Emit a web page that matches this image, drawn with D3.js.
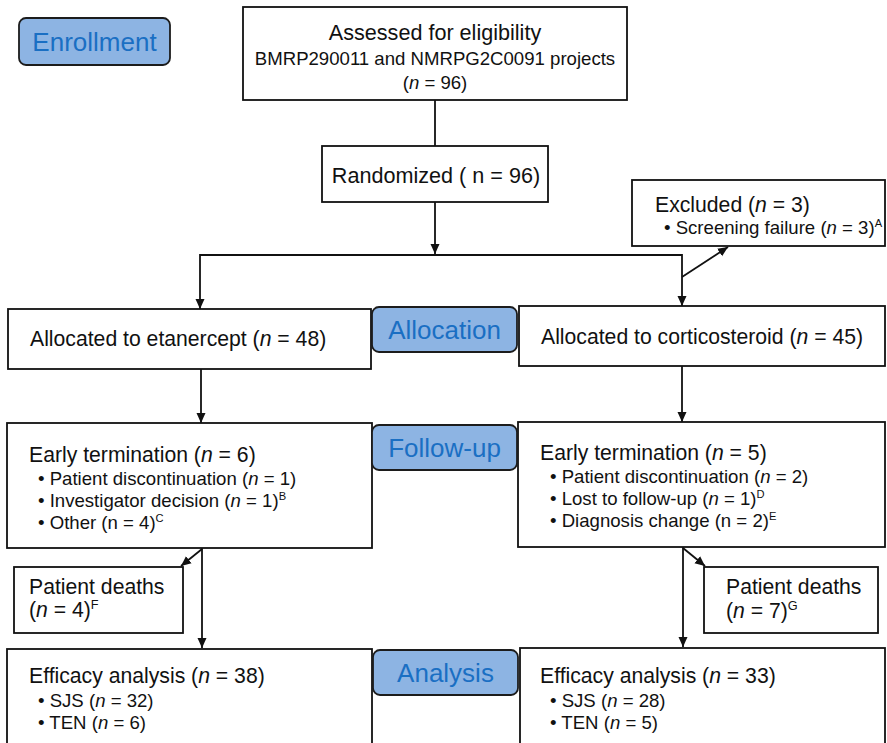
<!DOCTYPE html>
<html>
<head>
<meta charset="utf-8">
<script src="https://cdn.jsdelivr.net/npm/d3@7/dist/d3.min.js"></script>
<style>
  html, body { margin: 0; padding: 0; background: #fff; }
  svg { display: block; }
  text { font-family: "Liberation Sans", Arial, Helvetica, sans-serif; fill: #111; }
</style>
</head>
<body>
<svg id="chart" width="887" height="743"></svg>
<script>
// ---------------- DATA ----------------
const stageLabels = ["Enrollment", "Allocation", "Follow-up", "Analysis"];
const assessedLines = ["Assessed for eligibility", "BMRP290011 and NMRPG2C0091 projects", "(*n* = 96)"];
const randomizedLines = ["Randomized ( n = 96)"];
const excludedLines = ["Excluded (*n* = 3)", "• Screening failure (*n* = 3)^A"];
const allocatedLines = ["Allocated to etanercept (*n* = 48)", "Allocated to corticosteroid (*n* = 45)"];
const terminationLeft = ["Early termination (*n* = 6)", "• Patient discontinuation (*n* = 1)", "• Investigator decision (*n* = 1)^B", "• Other (n = 4)^C"];
const terminationRight = ["Early termination (*n* = 5)", "• Patient discontinuation (*n* = 2)", "• Lost to follow-up (*n* = 1)^D", "• Diagnosis change (n = 2)^E"];
const deathsLeft = ["Patient deaths", "(*n* = 4)^F"];
const deathsRight = ["Patient deaths", "(*n* = 7)^G"];
const efficacyLeft = ["Efficacy analysis (*n* = 38)", "• SJS (*n* = 32)", "• TEN (*n* = 6)"];
const efficacyRight = ["Efficacy analysis (*n* = 33)", "• SJS (*n* = 28)", "• TEN (*n* = 5)"];

// ---------------- DRAWING ----------------
const svg = d3.select("#chart");
const defs = svg.append("defs");
defs.append("marker")
  .attr("id", "arrow")
  .attr("viewBox", "0 0 10 10")
  .attr("refX", 10).attr("refY", 5)
  .attr("markerWidth", 10).attr("markerHeight", 10)
  .attr("markerUnits", "userSpaceOnUse")
  .attr("orient", "auto")
  .append("path").attr("d", "M0,0.5 L10,5 L0,9.5 Z").attr("fill", "#111");

const gLines = svg.append("g");
const gBoxes = svg.append("g");

// write a line with *italic* and ^S superscript markup
function richText(sel, str, x, y, size, anchor) {
  const t = sel.append("text").attr("x", x).attr("y", y)
    .attr("font-size", size).attr("text-anchor", anchor || "start");
  const parts = str.split(/(\*[^*]+\*|\^[A-Z])/).filter(p => p.length);
  let raised = false;
  parts.forEach(p => {
    if (p.startsWith("*")) {
      const ts = t.append("tspan").attr("font-style", "italic").text(p.slice(1, -1));
      if (raised) { ts.attr("dy", size * 0.36); raised = false; }
    } else if (p.startsWith("^")) {
      t.append("tspan").attr("font-size", size * 0.6).attr("dy", -size * 0.36).text(p.slice(1));
      raised = true;
    } else {
      const ts = t.append("tspan").text(p);
      if (raised) { ts.attr("dy", size * 0.36); raised = false; }
    }
  });
  return t;
}

function box(x, y, w, h) {
  gBoxes.append("rect").attr("x", x).attr("y", y).attr("width", w).attr("height", h)
    .attr("fill", "#fff").attr("stroke", "#111").attr("stroke-width", 1.8);
}

function block(lines, x, baselines, sizes, indentX) {
  lines.forEach((ln, i) => {
    const isBullet = ln.startsWith("•");
    richText(gBoxes, ln, isBullet ? indentX : x, baselines[i], sizes[i]);
  });
}

function line(pts, arrow) {
  const p = gLines.append("path")
    .attr("d", d3.line()(pts))
    .attr("fill", "none").attr("stroke", "#111").attr("stroke-width", 1.8);
  if (arrow) p.attr("marker-end", "url(#arrow)");
}

const big = 21.2, small = 18.6;

// connectors
line([[435, 100], [435, 146]]);
line([[435, 202], [435, 254]], true);
line([[200, 255], [682, 255]]);
line([[200, 254], [200, 309]], true);
line([[682, 254], [682, 306]], true);
line([[682, 277], [728, 247]], true);
line([[201, 369], [201, 423]], true);
line([[682, 366], [682, 422]], true);
line([[202, 548], [202, 648]], true);
line([[202, 549], [181, 566]], true);
line([[683, 547], [683, 647]], true);
line([[683, 548], [705, 566]], true);

// enrollment
box(243, 7, 384, 93);
richText(gBoxes, assessedLines[0], 435, 40, 21.6, "middle");
richText(gBoxes, assessedLines[1], 435, 65, small, "middle");
richText(gBoxes, assessedLines[2], 435, 89, small, "middle");

box(322, 146, 226, 56);
richText(gBoxes, randomizedLines[0], 436, 183, 21.6, "middle");

box(632, 180, 253, 66);
block(excludedLines, 655, [212, 234], [big, small], 664);

// allocation
box(8, 309, 363, 60);
richText(gBoxes, allocatedLines[0], 30, 346, big);
box(519, 306, 366, 60);
richText(gBoxes, allocatedLines[1], 541, 344, big);

// follow-up
box(7, 423, 365, 125);
block(terminationLeft, 29, [462, 485, 507, 529], [big, small, small, small], 38);
box(518, 422, 367, 125);
block(terminationRight, 540, [460, 483, 505, 527], [big, small, small, small], 550);

box(14, 567, 169, 66);
block(deathsLeft, 29, [594, 617], [big, big], 29);
box(704, 567, 174, 66);
block(deathsRight, 726, [594, 618], [big, big], 726);

// analysis
box(7, 649, 365, 110);
block(efficacyLeft, 29, [683, 707, 729], [big, small, small], 38);
box(520, 648, 365, 110);
block(efficacyRight, 540, [683, 707, 729], [big, small, small], 550);

// stage labels
const labelBoxes = [[19, 18], [372, 307], [372, 425], [373, 650]];
const labelSizes = [[151, 47], [145, 45], [145, 45], [145, 45]];
const gLab = svg.append("g");
stageLabels.forEach((lab, i) => {
  const [x, y] = labelBoxes[i], [w, h] = labelSizes[i];
  gLab.append("rect").attr("x", x).attr("y", y).attr("width", w).attr("height", h)
    .attr("rx", 7).attr("ry", 7)
    .attr("fill", "#8db4e3").attr("stroke", "#1c1c1c").attr("stroke-width", 1.8);
  gLab.append("text").attr("x", x + w / 2).attr("y", y + h / 2 + 9)
    .attr("text-anchor", "middle").attr("font-size", 26)
    .style("fill", "#1a6fc3").text(lab);
});
</script>
</body>
</html>
